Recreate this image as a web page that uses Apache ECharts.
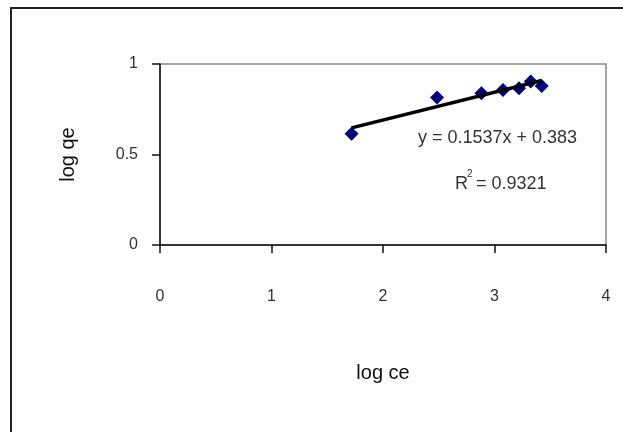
<!DOCTYPE html>
<html>
<head>
<meta charset="utf-8">
<script src="https://cdn.jsdelivr.net/npm/echarts@6/dist/echarts.min.js"></script>
<style>
  html, body { margin: 0; padding: 0; background: #fff; }
  #chart { width: 623px; height: 432px; }
</style>
</head>
<body>
<div id="chart"></div>
<script>
// Freundlich isotherm: log qe against log ce
const logCe = [1.718, 2.485, 2.883, 3.076, 3.22, 3.325, 3.423];
const logQe = [0.615, 0.815, 0.838, 0.857, 0.866, 0.904, 0.879];

// Linear fit reported for the points
const slope = 0.1537;
const intercept = 0.383;
const rSquared = 0.9321;

const xAxisRange = [0, 4];
const yAxisRange = [0, 1];

const points = logCe.map((x, i) => [x, logQe[i]]);
const xMin = Math.min(...logCe);
const xMax = Math.max(...logCe);
const fitLine = [xMin, xMax].map(x => [x, slope * x + intercept]);

const font = '"Liberation Sans", Arial, sans-serif';
const chart = echarts.init(document.getElementById('chart'), null, { renderer: 'canvas' });

chart.setOption({
  backgroundColor: '#ffffff',
  animation: false,
  grid: {
    left: 160, top: 64, right: 17, bottom: 187,
    show: true, borderColor: '#888888', borderWidth: 1.5, backgroundColor: '#ffffff'
  },
  xAxis: {
    type: 'value', min: xAxisRange[0], max: xAxisRange[1], interval: 1,
    name: 'log ce', nameLocation: 'middle', nameGap: 118,
    nameTextStyle: { fontFamily: font, fontSize: 20, color: '#111' },
    axisLine: { show: true, lineStyle: { color: '#111', width: 1.5 } },
    axisTick: { show: true, length: 8, lineStyle: { color: '#111', width: 1.5 } },
    axisLabel: { margin: 44, fontFamily: font, fontSize: 16, color: '#333' },
    splitLine: { show: false }
  },
  yAxis: {
    type: 'value', min: yAxisRange[0], max: yAxisRange[1], interval: 0.5,
    name: 'log qe', nameLocation: 'middle', nameGap: 82, nameRotate: 90,
    nameTextStyle: { fontFamily: font, fontSize: 20, color: '#111' },
    axisLine: { show: true, lineStyle: { color: '#111', width: 1.5 } },
    axisTick: { show: true, length: 8, lineStyle: { color: '#111', width: 1.5 } },
    axisLabel: { margin: 22, fontFamily: font, fontSize: 16, color: '#333' },
    splitLine: { show: false }
  },
  series: [
    {
      type: 'line', data: fitLine, symbol: 'none', z: 3,
      lineStyle: { color: '#000', width: 3.5 }
    },
    {
      type: 'scatter', data: points, symbol: 'diamond', symbolSize: 14, z: 2,
      itemStyle: { color: '#000080', opacity: 1 }
    }
  ],
  graphic: [
    {
      type: 'rect', silent: true, z: 100,
      shape: { x: 11, y: 8, width: 700, height: 500 },
      style: { fill: 'none', stroke: '#222', lineWidth: 2 }
    },
    {
      type: 'text', x: 418, y: 138, z: 100,
      style: { text: 'y = ' + slope + 'x + ' + intercept, font: '18px ' + font, fill: '#333', textVerticalAlign: 'middle' }
    },
    {
      type: 'text', x: 455, y: 184, z: 100,
      style: { text: 'R', font: '18px ' + font, fill: '#333', textVerticalAlign: 'middle' }
    },
    {
      type: 'text', x: 467, y: 174, z: 100,
      style: { text: '2', font: '10px ' + font, fill: '#333', textVerticalAlign: 'middle' }
    },
    {
      type: 'text', x: 476, y: 184, z: 100,
      style: { text: '= ' + rSquared, font: '18px ' + font, fill: '#333', textVerticalAlign: 'middle' }
    }
  ]
});
</script>
</body>
</html>
